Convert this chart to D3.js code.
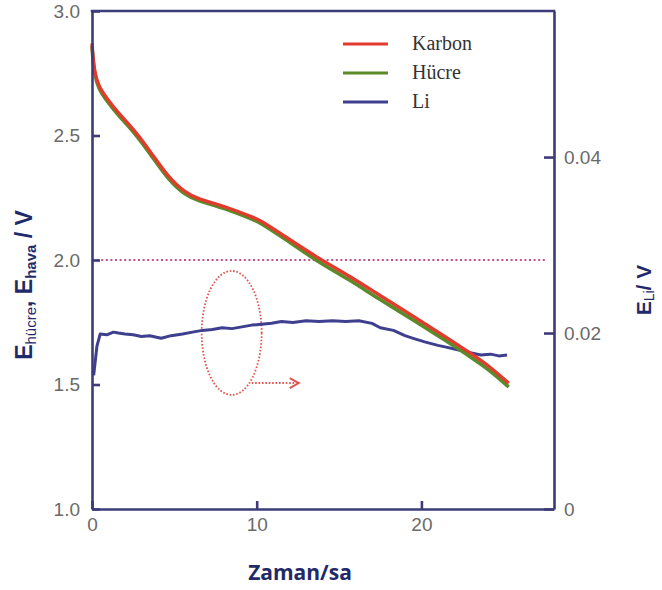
<!DOCTYPE html>
<html><head><meta charset="utf-8">
<script src="https://cdn.jsdelivr.net/npm/d3@7"></script>
<style>body{margin:0;background:#fff}svg{display:block}</style>
</head><body>
<svg id="c" width="662" height="590"></svg>
<script>
// ---- data ----
const timeKarbon = [0, 0.05, 0.15, 0.36, 1.0, 1.6, 2.6, 3.6, 4.6, 5.65, 6.5, 7.3, 8.7, 9.6, 10.1, 11.6, 13.65, 15.66, 17.3, 19.5, 21.5, 23.0, 24.2, 25.3];
const karbon     = [2.87, 2.82, 2.76, 2.70, 2.64, 2.59, 2.52, 2.43, 2.335, 2.27, 2.245, 2.23, 2.20, 2.175, 2.165, 2.10, 2.01, 1.935, 1.865, 1.775, 1.69, 1.625, 1.57, 1.505];
const hucre      = [2.86, 2.81, 2.75, 2.69, 2.63, 2.58, 2.51, 2.42, 2.325, 2.26, 2.238, 2.222, 2.192, 2.167, 2.155, 2.09, 1.995, 1.92, 1.848, 1.76, 1.675, 1.61, 1.555, 1.49];
const timeLi = [0.1, 0.3, 0.5, 0.9, 1.3, 1.6, 2.0, 2.5, 3.0, 3.5, 4.2, 4.8, 5.5, 6.1, 6.7, 7.3, 7.9, 8.5, 9.1, 9.7, 10.3, 10.9, 11.5, 12.2, 13.0, 13.8, 14.6, 15.4, 16.2, 17.0, 17.5, 18.3, 19.0, 19.5, 20.2, 21.0, 21.5, 22.2, 22.9, 23.6, 24.2, 24.7, 25.2];
const li     = [0.0152, 0.0185, 0.0199, 0.0198, 0.0201, 0.0200, 0.0199, 0.0198, 0.0196, 0.0197, 0.0194, 0.0197, 0.0199, 0.0201, 0.0203, 0.0204, 0.0206, 0.0205, 0.0207, 0.0209, 0.0210, 0.0211, 0.0213, 0.0212, 0.0214, 0.0213, 0.0214, 0.0213, 0.0214, 0.0211, 0.0206, 0.0203, 0.0197, 0.0194, 0.0190, 0.0186, 0.0184, 0.0181, 0.0178, 0.0175, 0.0176, 0.0174, 0.0175];
const xTicks = [0, 10, 20];
const yLeftTicks = [1.0, 1.5, 2.0, 2.5, 3.0];
const yRightTicks = [0, 0.02, 0.04];
const seriesNames = ["Karbon", "Hücre", "Li"];
const seriesColors = ["#e23a2c", "#5b8a2b", "#3e3f8e"];
const refLevel = 2.0;
const ellipseAnno = {t: 8.48, v: 1.707, rt: 1.82, rv: 0.249};
const arrowAnno = {t0: 9.7, t1: 12.55, v: 1.506};

// ---- layout ----
const svg = d3.select("#c");
const L = 92, R = 554, T = 11, B = 509;
const x = d3.scaleLinear().domain([0, 28.05]).range([L, R]);
const yL = d3.scaleLinear().domain([1.0, 3.0]).range([B, T]);
const yR = d3.scaleLinear().domain([0, 0.0566]).range([B, T]);
const axisColor = "#3d3b78";
const labelFont = "'Liberation Sans', Arial, sans-serif";

// reference dotted line
svg.append("line")
  .attr("x1", x(0)).attr("x2", x(27.6))
  .attr("y1", yL(refLevel)).attr("y2", yL(refLevel))
  .attr("stroke", "#c2508a").attr("stroke-width", 2.2).attr("stroke-dasharray", "2,2.6");

// annotation ellipse and arrow
svg.append("ellipse")
  .attr("cx", x(ellipseAnno.t)).attr("cy", yL(ellipseAnno.v))
  .attr("rx", x(ellipseAnno.rt) - x(0)).attr("ry", yL(1.0) - yL(1.0 + ellipseAnno.rv))
  .attr("fill", "none").attr("stroke", "#e0564f").attr("stroke-width", 1.8).attr("stroke-dasharray", "1.6,1.8");
svg.append("line")
  .attr("x1", x(arrowAnno.t0)).attr("x2", x(arrowAnno.t1) - 4)
  .attr("y1", yL(arrowAnno.v)).attr("y2", yL(arrowAnno.v))
  .attr("stroke", "#e0564f").attr("stroke-width", 1.8).attr("stroke-dasharray", "1.6,1.8");
svg.append("path")
  .attr("d", `M${x(arrowAnno.t1)-9},${yL(arrowAnno.v)-5} L${x(arrowAnno.t1)},${yL(arrowAnno.v)} L${x(arrowAnno.t1)-9},${yL(arrowAnno.v)+5}`)
  .attr("fill", "none").attr("stroke", "#e0564f").attr("stroke-width", 2);

// curves
const lineL = d3.line().x(d => x(d[0])).y(d => yL(d[1])).curve(d3.curveBasis);
const lineR = d3.line().x(d => x(d[0])).y(d => yR(d[1])).curve(d3.curveLinear);
svg.append("path").datum(d3.zip(timeLi, li)).attr("d", lineR)
  .attr("fill", "none").attr("stroke", seriesColors[2]).attr("stroke-width", 3).attr("stroke-linejoin", "round");
svg.append("path").datum(d3.zip(timeKarbon, hucre)).attr("d", lineL)
  .attr("fill", "none").attr("stroke", seriesColors[1]).attr("stroke-width", 3.6);
svg.append("path").datum(d3.zip(timeKarbon, karbon)).attr("d", lineL)
  .attr("fill", "none").attr("stroke", seriesColors[0]).attr("stroke-width", 3.4);

// axes
function styleAxis(g) {
  g.selectAll(".domain").attr("stroke", axisColor).attr("stroke-width", 2.6);
  g.selectAll(".tick line").attr("stroke", axisColor).attr("stroke-width", 2.6);
  g.selectAll(".tick text").attr("fill", "#6a6a6a").style("font-family", labelFont).style("font-size", "19px");
}
svg.append("g").attr("transform", `translate(0,${B})`)
  .call(d3.axisBottom(x).tickValues(xTicks).tickSizeInner(-8).tickSizeOuter(0).tickPadding(9).tickFormat(d3.format("d")))
  .call(styleAxis);
svg.append("g").attr("transform", `translate(${L},0)`)
  .call(d3.axisLeft(yL).tickValues(yLeftTicks).tickSizeInner(-8).tickSizeOuter(0).tickPadding(12).tickFormat(d3.format(".1f")))
  .call(styleAxis);
svg.append("g").attr("transform", `translate(${R},0)`)
  .call(d3.axisRight(yR).tickValues(yRightTicks).tickSizeInner(-10).tickSizeOuter(0).tickPadding(10).tickFormat(d => d === 0 ? "0" : d3.format(".2f")(d)))
  .call(styleAxis);
svg.append("line").attr("x1", L - 1.3).attr("x2", R + 1.3).attr("y1", T).attr("y2", T)
  .attr("stroke", axisColor).attr("stroke-width", 2.6);

// axis titles
const titleColor = "#1f2a6a";
svg.append("text").attr("x", 300).attr("y", 580).attr("text-anchor", "middle")
  .attr("fill", titleColor).style("font-family", "'Open Sans', 'Liberation Sans', sans-serif")
  .style("font-size", "21px").style("font-weight", "bold").text("Zaman/sa");

const lt = svg.append("text").attr("transform", "translate(32,285) rotate(-90)").attr("text-anchor", "middle")
  .attr("fill", titleColor).style("font-family", "'Liberation Sans', Arial, sans-serif")
  .style("font-size", "23px").style("font-weight", "bold");
lt.append("tspan").text("E");
lt.append("tspan").attr("dy", 4).style("font-size", "15px").style("font-weight", "normal").text("hücre");
lt.append("tspan").attr("dy", -4).text(", E");
lt.append("tspan").attr("dy", 4).style("font-size", "15px").text("hava");
lt.append("tspan").attr("dy", -4).text(" / V");

const rt = svg.append("text").attr("transform", "translate(651,290) rotate(-90)").attr("text-anchor", "middle")
  .attr("fill", titleColor).style("font-family", "'Liberation Sans', Arial, sans-serif")
  .style("font-size", "21px").style("font-weight", "bold");
rt.append("tspan").text("E");
rt.append("tspan").attr("dy", 3).style("font-size", "14px").style("font-weight", "normal").text("Li");
rt.append("tspan").attr("dy", -3).text("/ V");

// legend
const lg = svg.append("g");
seriesNames.forEach((name, i) => {
  const yy = 44 + i * 29;
  lg.append("line").attr("x1", 343).attr("x2", 388).attr("y1", yy).attr("y2", yy)
    .attr("stroke", seriesColors[i]).attr("stroke-width", 3.2);
  lg.append("text").attr("x", 412).attr("y", yy + 6).attr("fill", "#333")
    .style("font-family", "'Liberation Serif', 'Times New Roman', serif").style("font-size", "20px").text(name);
});
</script>
</body></html>
